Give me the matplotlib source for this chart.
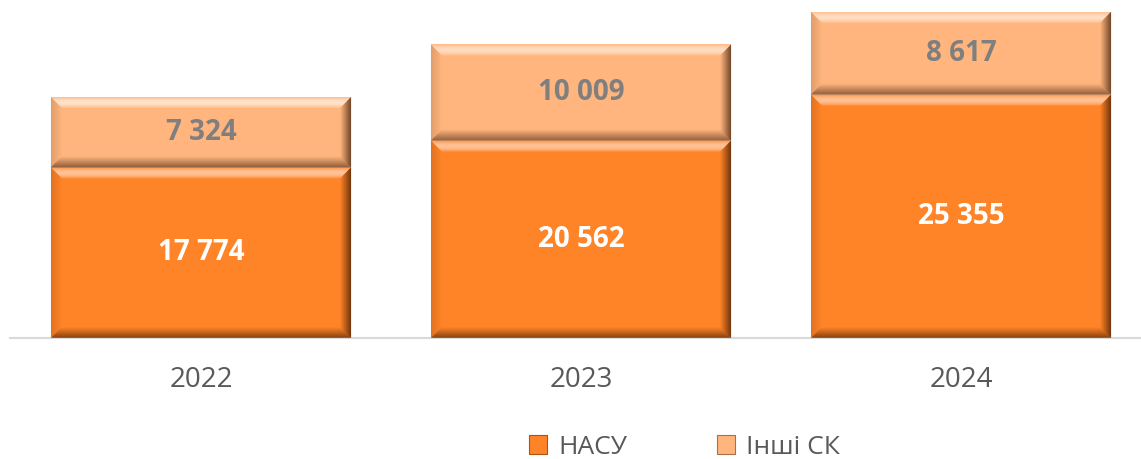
import numpy as np
import matplotlib
matplotlib.use("Agg")
import matplotlib.pyplot as plt
from matplotlib.patches import Polygon, Patch
from matplotlib.transforms import IdentityTransform

# data
years = ["2022", "2023", "2024"]
nasu = [17774, 20562, 25355]
others = [7324, 10009, 8617]
series_names = ["НАСУ", "Інші СК"]

COLOR_NASU = "#FF8327"
COLOR_OTHERS = "#FFB57D"

plt.rcParams["font.family"] = ["Open Sans", "DejaVu Sans"]

W, H = 1141, 459
fig = plt.figure(figsize=(W / 100, H / 100), dpi=100)
ax = fig.add_axes([10 / W, 121 / H, 1131 / W, 338 / H])

x = np.arange(len(years))
bars_low = ax.bar(x, nasu, width=0.79, color=COLOR_NASU, zorder=2)
bars_top = ax.bar(x, others, width=0.79, bottom=nasu, color=COLOR_OTHERS, zorder=2)

ax.set_xlim(-0.5026, 2.4737)
ax.set_ylim(0, 35200)


# bevel effect drawn in pixel space over each bar
def bevel(rect, width=11, steps=11):
    (x0, y0) = ax.transData.transform((rect.get_x(), rect.get_y()))
    (x1, y1) = ax.transData.transform(
        (rect.get_x() + rect.get_width(), rect.get_y() + rect.get_height())
    )
    s = width / steps
    for i in range(steps):
        d = i * s
        t = (i + 0.5) / steps
        sides = {
            "top": ("white", 0.10 + 0.5 * np.sin(np.pi * t)),
            "right": ("#2e1000", 0.72 * (1 - t) ** 1.1),
            "bottom": ("#2e1000", 0.6 * (1 - t) ** 1.1),
            "left": ("#3a1500", 0.15 * (1 - t)),
        }
        a, b = d, d + s
        polys = {
            "top": [(x0 + a, y1 - a), (x1 - a, y1 - a), (x1 - b, y1 - b), (x0 + b, y1 - b)],
            "right": [(x1 - a, y1 - a), (x1 - a, y0 + a), (x1 - b, y0 + b), (x1 - b, y1 - b)],
            "bottom": [(x0 + a, y0 + a), (x1 - a, y0 + a), (x1 - b, y0 + b), (x0 + b, y0 + b)],
            "left": [(x0 + a, y1 - a), (x0 + a, y0 + a), (x0 + b, y0 + b), (x0 + b, y1 - b)],
        }
        for side, pts in polys.items():
            col, alpha = sides[side]
            fig.add_artist(
                Polygon(pts, closed=True, facecolor=col, edgecolor="none",
                        alpha=alpha, transform=IdentityTransform(), zorder=3)
            )


for r in list(bars_low) + list(bars_top):
    bevel(r)

# value labels
for i in range(len(years)):
    ax.text(x[i], nasu[i] / 2, f"{nasu[i]:,}".replace(",", " "),
            ha="center", va="center", color="white", fontsize=20,
            fontweight="bold", zorder=5)
    ax.text(x[i], nasu[i] + others[i] / 2, f"{others[i]:,}".replace(",", " "),
            ha="center", va="center", color="#7F7F7F", fontsize=20,
            fontweight="bold", zorder=5)

for side in ["top", "right", "left"]:
    ax.spines[side].set_visible(False)
ax.spines["bottom"].set_color("#D9D9D9")
ax.spines["bottom"].set_linewidth(1.5)
ax.set_yticks([])
ax.set_xticks(x)
ax.set_xticklabels(years)
ax.tick_params(axis="x", length=0, pad=20, labelsize=20, labelcolor="#595959")

handles = [Patch(facecolor=COLOR_NASU, edgecolor="#A8541A", linewidth=0.8),
           Patch(facecolor=COLOR_OTHERS, edgecolor="#A8704A", linewidth=0.8)]
fig.legend(handles, series_names, loc="center left",
           bbox_to_anchor=(529 / W, 12 / H), ncol=2, frameon=False,
           fontsize=19, labelcolor="#595959", handlelength=0.7,
           handleheight=0.7, handletextpad=0.4, columnspacing=3.4,
           borderpad=0, borderaxespad=0)

fig.savefig("out.png", dpi=100)
